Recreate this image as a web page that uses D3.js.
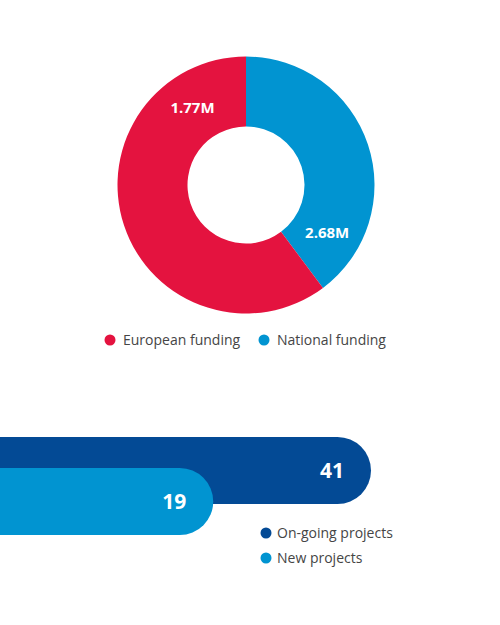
<!DOCTYPE html>
<html>
<head>
<meta charset="utf-8">
<script src="https://cdn.jsdelivr.net/npm/d3@7"></script>
<style>
  body { margin: 0; background: #fff; }
  svg { display: block; font-family: "Open Sans", sans-serif; }
</style>
</head>
<body>
<svg id="chart" width="500" height="625"></svg>
<script>
// funding donut (slices drawn clockwise from the top, in this order)
var fundingSlices = ["National funding", "European funding"];
var fundingValues = [1.77, 2.68];
var fundingText = ["2.68M", "1.77M"]; // labels as printed on the slices
var fundingLegend = ["European funding", "National funding"];

// projects bars
var projectNames = ["On-going projects", "New projects"];
var projectValues = [41, 19];

var colors = {
    "European funding": "#e4133f",
    "National funding": "#0194d1",
    "On-going projects": "#034a95",
    "New projects": "#0194d1"
};

var svg = d3.select("#chart");

// ---- donut ----
var cx = 246, cy = 185;
var outerR = 128.5, innerR = 58.5;

var pie = d3.pie().sort(null).value(function(d, i) { return fundingValues[i]; });
var arcs = pie(fundingSlices);
var arc = d3.arc().innerRadius(innerR).outerRadius(outerR);

var donut = svg.append("g").attr("transform", "translate(" + cx + "," + cy + ")");

donut.selectAll("path")
    .data(arcs)
    .enter().append("path")
    .attr("d", arc)
    .attr("fill", function(d) { return colors[d.data]; });

// labels sit near the end of each slice
donut.selectAll("text")
    .data(arcs)
    .enter().append("text")
    .attr("transform", function(d) {
        var a = d.startAngle + 0.84 * (d.endAngle - d.startAngle);
        var r = 94;
        return "translate(" + (r * Math.sin(a)) + "," + (-r * Math.cos(a)) + ")";
    })
    .attr("text-anchor", "middle")
    .attr("dy", "0.35em")
    .attr("fill", "#fff")
    .attr("font-size", 15)
    .attr("font-weight", "bold")
    .text(function(d, i) { return fundingText[i]; });

var legendX = d3.scalePoint().domain(fundingLegend).range([110, 264]);
var leg1 = svg.append("g").selectAll("g")
    .data(fundingLegend)
    .enter().append("g")
    .attr("transform", function(d) { return "translate(" + legendX(d) + ",340)"; });
leg1.append("circle").attr("r", 5.5).attr("fill", function(d) { return colors[d]; });
leg1.append("text")
    .attr("x", 13)
    .attr("dy", "0.35em")
    .attr("font-size", 14)
    .attr("fill", "#454545")
    .text(function(d) { return d; });

// ---- bars ----
var x = d3.scaleLinear().domain([0, 41]).range([77, 371]);
var y = d3.scalePoint().domain(projectNames).range([470.5, 501.5]);
var barH = 67, rad = barH / 2;

function barPath(v, yc) {
    var x1 = x(v), x0 = -40;
    var top = yc - rad, bot = yc + rad;
    return "M" + x0 + "," + top +
        "H" + (x1 - rad) +
        "A" + rad + "," + rad + " 0 0 1 " + (x1 - rad) + "," + bot +
        "H" + x0 + "Z";
}

var bars = svg.append("g").selectAll("g")
    .data(projectNames)
    .enter().append("g");

bars.append("path")
    .attr("d", function(d, i) { return barPath(projectValues[i], y(d)); })
    .attr("fill", function(d) { return colors[d]; });

bars.append("text")
    .attr("x", function(d, i) { return x(projectValues[i]) - 27; })
    .attr("y", function(d) { return y(d); })
    .attr("dy", "0.35em")
    .attr("text-anchor", "end")
    .attr("fill", "#fff")
    .attr("font-size", 21)
    .attr("font-weight", "bold")
    .text(function(d, i) { return projectValues[i]; });

var legY = d3.scalePoint().domain(projectNames).range([533, 558]);
var leg2 = svg.append("g").selectAll("g")
    .data(projectNames)
    .enter().append("g")
    .attr("transform", function(d) { return "translate(266," + legY(d) + ")"; });
leg2.append("circle").attr("r", 5.5).attr("fill", function(d) { return colors[d]; });
leg2.append("text")
    .attr("x", 11)
    .attr("dy", "0.35em")
    .attr("font-size", 14)
    .attr("fill", "#454545")
    .text(function(d) { return d; });
</script>
</body>
</html>
